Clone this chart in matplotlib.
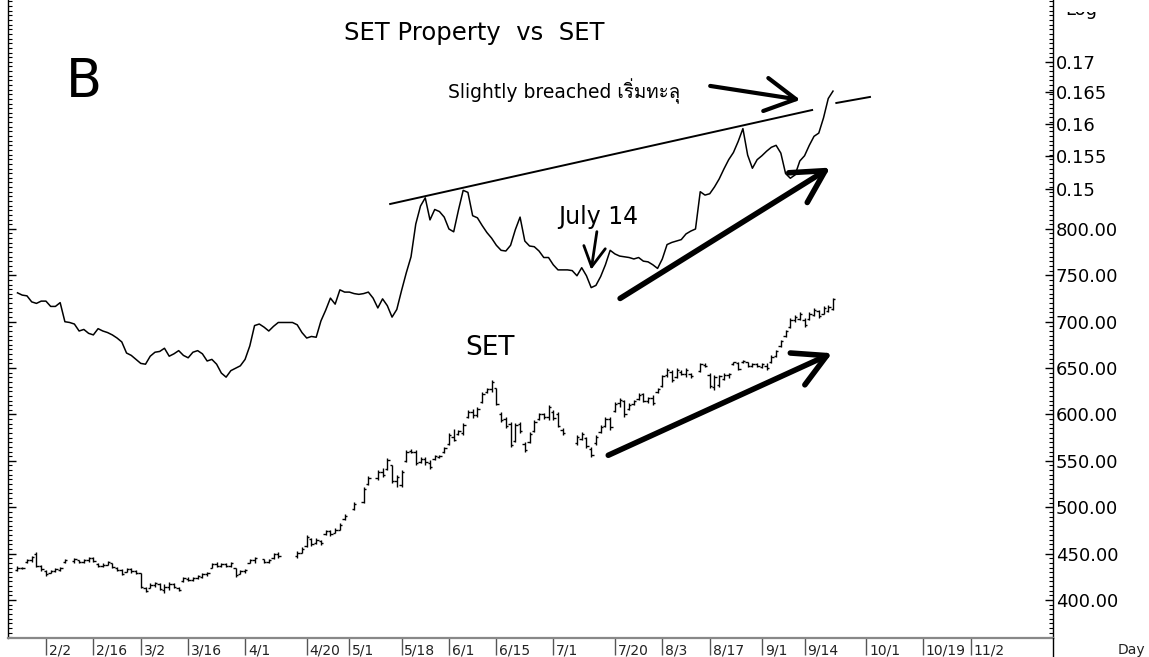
import matplotlib
matplotlib.use("Agg")
import matplotlib.pyplot as plt
import numpy as np
from matplotlib import font_manager, ft2font, transforms
from matplotlib.lines import Line2D
from matplotlib.patches import Rectangle
from matplotlib.ticker import FixedLocator, FixedFormatter, MultipleLocator, NullLocator

# x axis = trading-day number counted from Mon 2 Feb 2009, holidays left empty
first_day = -6
tick_days = [0, 10, 20, 30, 42, 55, 64, 75, 85, 95, 107, 120, 130, 140, 151, 160, 173, 185, 195]
tick_labels = ["2/2", "2/16", "3/2", "3/16", "4/1", "4/20", "5/1", "5/18", "6/1", "6/15",
               "7/1", "7/20", "8/3", "8/17", "9/1", "9/14", "10/1", "10/19", "11/2"]

# SET Property / SET ratio (log scale, upper line)
prop_ratio = [
    0.1354, 0.1351, 0.1350, 0.1342, 0.1340, 0.1343,
    0.1343, 0.1336, 0.1336, 0.1341, 0.1316, 0.1315, 0.1313, 0.1304, 0.1306, 0.1301,
    0.1299, 0.1307, 0.1304, 0.1302, 0.1299, 0.1295, 0.1290, 0.1276, 0.1273, 0.1268,
    0.1263, 0.1262, 0.1272, 0.1277, 0.1278, 0.1282, 0.1272, 0.1275, 0.1279, 0.1273,
    0.1270, 0.1277, 0.1279, 0.1275, 0.1266, 0.1268, 0.1262, 0.1251, 0.1246, 0.1254,
    0.1257, 0.1260, 0.1268, 0.1285, 0.1311, 0.1313, 0.1309, 0.1304, 0.1310, 0.1315,
    0.1315, 0.1315, 0.1315, 0.1312, 0.1302, 0.1295, 0.1297, 0.1296, 0.1317, 0.1331,
    0.1347, 0.1339, 0.1358, 0.1355, 0.1355, 0.1353, 0.1352, 0.1353, 0.1355, 0.1347,
    0.1334, 0.1346, 0.1337, 0.1322, 0.1332, 0.1357, 0.1381, 0.1403, 0.1449, 0.1475,
    0.1487, 0.1455, 0.1470, 0.1467, 0.1459, 0.1442, 0.1438, 0.1469, 0.1498, 0.1495,
    0.1461, 0.1458, 0.1447, 0.1437, 0.1429, 0.1419, 0.1412, 0.1411, 0.1419, 0.1441,
    0.1459, 0.1425, 0.1418, 0.1417, 0.1411, 0.1402, 0.1402, 0.1392, 0.1385, 0.1385,
    0.1385, 0.1384, 0.1377, 0.1388, 0.1377, 0.1361, 0.1364, 0.1376, 0.1392, 0.1412,
    0.1407, 0.1404, 0.1403, 0.1402, 0.1400, 0.1402, 0.1397, 0.1396, 0.1392, 0.1387,
    0.1400, 0.1420, 0.1423, 0.1425, 0.1427, 0.1435, 0.1439, 0.1442, 0.1496, 0.1491,
    0.1493, 0.1503, 0.1515, 0.1530, 0.1544, 0.1555, 0.1572, 0.1592, 0.1551, 0.1531,
    0.1544, 0.1550, 0.1557, 0.1563, 0.1566, 0.1554, 0.1523, 0.1516, 0.1521, 0.1542,
    0.1550, 0.1566, 0.1580, 0.1585, 0.1609, 0.1640, 0.1652]

# SET index daily bars
set_open = [
    432, 435, 441, 443, 450, 437,
    431, 429, 431, 432, 441, None, 442, 443, 441, 443,
    445, 439, 437, 438, 440, 435, 432, 430, 433, 431,
    429, 413, 413, 416, 417, 411, 414, 417, 413, 420,
    423, 422, 424, 425, 428, 435, 439, 437, 439, 437,
    434, 428, 431, 440, 443, None, 444, 441, 445, 450,
    None, None, None, 447, 451, 458, 466, 461, 464, 471,
    474, 472, 476, 487, None, 498, None, 506, 525, None,
    531, 538, 541, 545, 528, 524, 550, 561, 560, 549,
    552, 548, 552, 554, 559, 568, 576, 579, 580, 597,
    603, 599, 613, 624, 627, 628, 600, 595, 590, 571,
    590, 568, 570, 582, 595, 600, 597, 603, 600, 583,
    None, None, 569, 574, 575, 563, 569, 581, 588, 595,
    604, 612, 614, 606, 611, 617, 622, 614, 618, 624,
    631, 642, 646, 640, 646, 644, 644, None, 647, 653,
    643, 630, 632, 638, 642, 654, 655, 656, 656, 652,
    654, 651, 652, 656, 663, 674, 684, 694, 702, 703,
    702, 703, 707, 711, 708, 712, 714]
set_high = [
    437, 436, 444, 447, 452, 438,
    432, 432, 435, 436, 444, None, 445, 443, 444, 446,
    446, 440, 440, 442, 440, 436, 433, 435, 435, 432,
    429, 414, 418, 419, 418, 417, 419, 418, 414, 425,
    425, 425, 427, 429, 430, 440, 441, 440, 440, 441,
    435, 432, 433, 444, 446, None, 444, 444, 451, 452,
    None, None, None, 453, 457, 470, 467, 467, 465, 475,
    475, 478, 483, 493, None, 506, None, 522, 534, None,
    540, 542, 553, 546, 535, 540, 562, 563, 562, 554,
    554, 551, 556, 556, 565, 580, 584, 583, 591, 605,
    606, 608, 624, 629, 637, 629, 603, 597, 592, 591,
    592, 570, 581, 594, 602, 602, 610, 605, 603, 585,
    None, None, 578, 581, 576, 565, 578, 589, 597, 597,
    613, 618, 616, 612, 616, 623, 623, 619, 621, 629,
    643, 650, 648, 650, 648, 650, 645, None, 655, 655,
    645, 643, 643, 645, 645, 657, 657, 659, 657, 655,
    655, 655, 655, 664, 669, 680, 691, 704, 707, 710,
    704, 710, 715, 713, 717, 718, 726]
set_low = [
    431, 433, 440, 441, 436, 431,
    426, 429, 430, 431, 440, None, 440, 440, 440, 441,
    441, 436, 436, 438, 435, 431, 427, 430, 429, 428,
    413, 409, 413, 414, 411, 408, 411, 413, 410, 419,
    421, 421, 423, 424, 426, 435, 436, 436, 436, 436,
    425, 428, 429, 440, 440, None, 440, 440, 444, 445,
    None, None, None, 445, 451, 457, 458, 460, 459, 470,
    469, 472, 475, 486, None, 497, None, 505, 524, None,
    529, 533, 540, 526, 522, 522, 549, 558, 546, 548,
    546, 541, 551, 553, 558, 567, 571, 578, 578, 596,
    596, 597, 612, 623, 624, 610, 592, 585, 565, 570,
    580, 560, 569, 581, 594, 595, 594, 594, 586, 578,
    None, None, 567, 572, 564, 554, 567, 580, 586, 583,
    603, 608, 597, 605, 610, 616, 613, 612, 610, 623,
    630, 640, 635, 639, 643, 640, 639, None, 646, 651,
    629, 626, 630, 637, 639, 653, 648, 655, 651, 651,
    651, 650, 648, 655, 662, 673, 683, 693, 700, 702,
    694, 702, 706, 704, 708, 710, 713]
set_close = [
    435, 434, 443, 446, 437, 433,
    428, 431, 433, 434, 443, None, 444, 441, 443, 445,
    442, 437, 438, 441, 436, 432, 428, 433, 431, 429,
    414, 410, 416, 418, 412, 414, 417, 414, 411, 424,
    422, 424, 426, 428, 429, 439, 437, 439, 437, 440,
    427, 431, 432, 443, 445, None, 441, 443, 450, 447,
    None, None, None, 451, 455, 468, 460, 465, 461, 474,
    471, 476, 481, 491, None, 504, None, 520, 532, None,
    538, 535, 551, 528, 533, 538, 560, 559, 548, 552,
    549, 543, 555, 555, 564, 578, 573, 582, 589, 603,
    599, 606, 622, 627, 635, 611, 594, 588, 567, 589,
    582, 562, 579, 592, 600, 597, 608, 596, 588, 580,
    None, None, 576, 579, 566, 556, 576, 587, 595, 586,
    611, 616, 600, 610, 614, 621, 615, 618, 612, 627,
    641, 648, 637, 648, 644, 648, 641, None, 654, 652,
    631, 640, 641, 643, 644, 656, 649, 658, 652, 654,
    652, 654, 650, 662, 668, 679, 690, 702, 705, 708,
    696, 708, 713, 706, 715, 716, 724]

set_ticks = [400, 450, 500, 550, 600, 650, 700, 750, 800]
ratio_ticks = [0.15, 0.155, 0.16, 0.165, 0.17]
ratio_labels = ["0.15", "0.155", "0.16", "0.165", "0.17"]


def thai_fonts():
    names = []
    for f in font_manager.fontManager.ttflist:
        try:
            if ord("ท") in ft2font.FT2Font(f.fname).get_charmap():
                names.append(f.name)
        except Exception:
            pass
    return names


thai = thai_fonts()
plt.rcParams["font.family"] = ["DejaVu Sans"] + thai[:1]

fig = plt.figure(figsize=(11.49, 6.57), dpi=100)
fig.patch.set_facecolor("white")
ax = fig.add_axes([8 / 1149, 19 / 657, 1045 / 1149, 638 / 657])
axr = ax.twinx()  # ratio line on its own log scale (twinx moves ax ticks left, fixed below)

days = np.arange(first_day, first_day + len(set_close))
o = np.array(set_open, dtype=float)
h = np.array(set_high, dtype=float)
l = np.array(set_low, dtype=float)
c = np.array(set_close, dtype=float)
ok = ~np.isnan(c)
ax.vlines(days[ok], l[ok], h[ok], color="black", lw=1)
ax.hlines(o[ok], days[ok] - 0.5, days[ok], color="black", lw=1)
ax.hlines(c[ok], days[ok], days[ok] + 0.5, color="black", lw=1)

ax.set_xlim(-8.0, 212.4)
ax.set_ylim(359.1, 1046.6)

# x axis
ax.xaxis.set_major_locator(FixedLocator(tick_days))
ax.xaxis.set_major_formatter(FixedFormatter(tick_labels))
ax.tick_params(axis="x", direction="out", length=12, width=1, color="#555555",
               pad=-8, labelsize=10, labelcolor="#222222")
for lab in ax.get_xticklabels():
    lab.set_horizontalalignment("left")
    lab.set_transform(lab.get_transform() + transforms.ScaledTranslation(2 / 72, 0, fig.dpi_scale_trans))

# SET scale on the right, small ticks on both spines
ax.yaxis.set_major_locator(FixedLocator(set_ticks))
ax.yaxis.set_major_formatter(lambda v, pos: f"{v:.2f}")
ax.yaxis.set_minor_locator(MultipleLocator(5))
ax.tick_params(axis="y", which="major", direction="in", length=6, width=1, pad=2,
               labelsize=13, left=True, right=True, labelleft=False, labelright=True)
ax.tick_params(axis="y", which="minor", direction="in", length=3, width=0.8, left=True, right=True)

ax.spines["top"].set_visible(False)
ax.spines["bottom"].set_color("#888888")
ax.spines["bottom"].set_linewidth(1.6)
ax.spines["left"].set_linewidth(1)
ax.spines["right"].set_linewidth(1)

axr.set_yscale("log")
prop_days = np.arange(first_day, first_day + len(prop_ratio))
axr.plot(prop_days, prop_ratio, color="black", lw=1.1)
axr.set_ylim(0.09634, 0.18073)
axr.yaxis.set_major_locator(FixedLocator(ratio_ticks))
axr.yaxis.set_major_formatter(FixedFormatter(ratio_labels))
axr.yaxis.set_minor_locator(NullLocator())
axr.tick_params(axis="y", which="major", direction="in", length=6, width=1, pad=2, labelsize=13)
for s in axr.spines.values():
    s.set_visible(False)

# resistance line, broken where the ratio breaks out
axr.plot([72.6, 161.6], [0.1478, 0.16215], color="black", lw=1.4)
axr.plot([166.7, 173.8], [0.16328, 0.16425], color="black", lw=1.4)


# arrows
def arrow(start, tip, lw, ms):
    ax.annotate("", xy=tip, xytext=start,
                arrowprops=dict(arrowstyle="->, head_length=0.55, head_width=0.3", color="black",
                                lw=lw, mutation_scale=ms, shrinkA=0, shrinkB=0))


arrow((140.1, 954), (159.1, 939), 3, 40)
arrow((116.2, 797), (115.0, 756), 2, 26)
arrow((121.1, 725), (165.4, 866), 4, 42)
arrow((118.6, 556), (165.8, 666), 4, 42)

# texts
ax.text(90.3, 1011, "SET Property  vs  SET", ha="center", va="center", fontsize=17.5)
ax.text(4.2, 958, "B", ha="left", va="center", fontsize=38)
ax.text(84.8, 948.5, "Slightly breached เริ่มทะลุ", ha="left", va="center", fontsize=13.5)
ax.text(116.5, 812.7, "July 14", ha="center", va="center", fontsize=17)
ax.text(93.7, 671.6, "SET", ha="center", va="center", fontsize=19)

# extras on the right edge
fig.text(1131 / 1149, 1 - 650 / 657, "Day", ha="center", va="center", fontsize=10, color="#222222")
fig.text(1065 / 1149, 1 - 10 / 657, "Log", ha="left", va="center", fontsize=13)
fig.patches.append(Rectangle((1056 / 1149, 1 - 12 / 657), 60 / 1149, 12 / 657,
                             transform=fig.transFigure, facecolor="white", edgecolor="none", zorder=5))
edge = transforms.blended_transform_factory(ax.transAxes, fig.transFigure)
fig.add_artist(Line2D([1, 1], [0, 19 / 657], transform=edge, color="black", lw=1))

fig.savefig("out.png", dpi=100)
